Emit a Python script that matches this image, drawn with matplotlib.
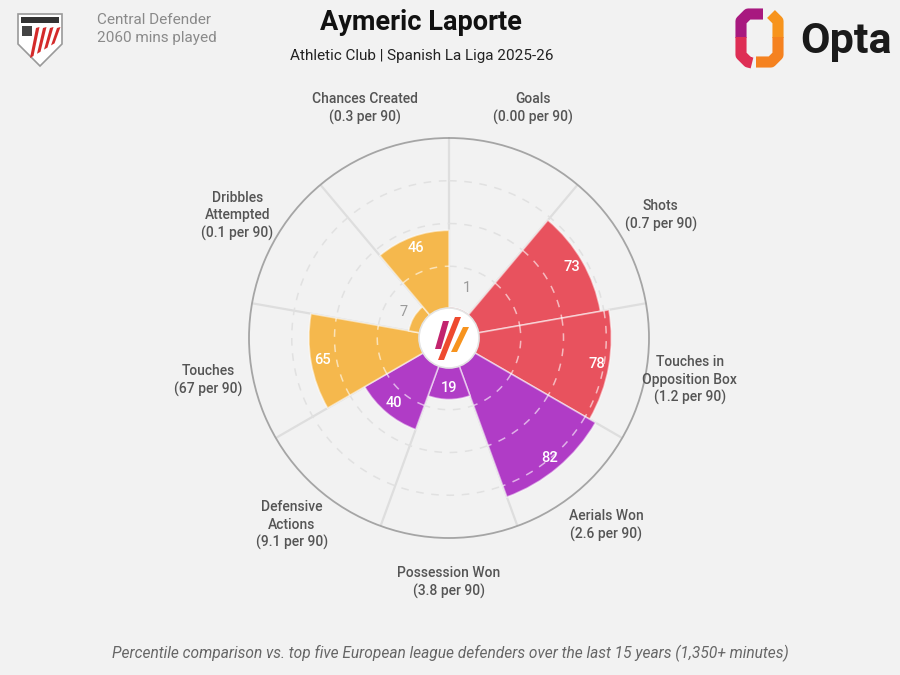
import matplotlib; matplotlib.use("Agg")
import matplotlib.pyplot as plt, numpy as np
from matplotlib.patches import Ellipse, Polygon
from matplotlib.lines import Line2D

plt.rcParams["font.family"] = ["Roboto", "DejaVu Sans"]

# data, clockwise from 12 o'clock
metrics = ["Goals", "Shots", "Touches in\nOpposition Box", "Aerials Won", "Possession Won",
           "Defensive\nActions", "Touches", "Dribbles\nAttempted", "Chances Created"]
per90 = ["0.00", "0.7", "1.2", "2.6", "3.8", "9.1", "67", "0.1", "0.3"]
pct = [1, 73, 78, 82, 19, 40, 65, 7, 46]
group = ["att", "att", "att", "def", "def", "def", "pos", "pos", "pos"]

pal = {"att": "#E8525E", "def": "#B03CC6", "pos": "#F5B84D"}
BG = "#f2f2f2"

fig = plt.figure(figsize=(9, 6.75), dpi=100, facecolor=BG)
W, H = 900, 675
cx, cy, R, HOLE = 449, 338, 200, 29

def fx(x, y):
    return (x / W, 1 - y / H)

ax = fig.add_axes([(cx - R) / W, 1 - (cy + R) / H, 2 * R / W, 2 * R / H], projection="polar")
ax.set_facecolor(BG)
ax.patch.set_edgecolor("none")
ax.set_theta_zero_location("N"); ax.set_theta_direction(-1)
org = -100 * HOLE / (R - HOLE)
ax.set_rorigin(org); ax.set_ylim(0, 100)
ax.set_xticks([]); ax.set_yticks([]); ax.grid(False)
for name, sp in ax.spines.items():
    if name == "polar":
        sp.set_color("#a5a5a5"); sp.set_linewidth(1.3)
    else:
        sp.set_visible(False)

n = len(pct)
step = 2 * np.pi / n
theta = np.arange(n) * step + step / 2

# spokes and faint rings
for k in range(n):
    ax.plot([k * step, k * step], [0, 100], color="#dedede", lw=1.6, zorder=1)
tt = np.linspace(0, 2 * np.pi, 500)
for r in (25, 50, 75):
    ax.plot(tt, np.full_like(tt, r), color="#e1e1e1", lw=1.1, ls=(0, (5, 5)), zorder=1)

cols = [pal[g] for g in group]
ax.bar(theta, pct, width=step, bottom=0, color=cols, edgecolor=(1, 1, 1, 0.55), linewidth=1.2, zorder=2)

# dashed rings inside bars
for t, v in zip(theta, pct):
    seg = np.linspace(t - step / 2, t + step / 2, 60)
    for r in (25, 50, 75):
        if r < v:
            ax.plot(seg, np.full_like(seg, r), color="white", alpha=0.6, lw=1.1, ls=(0, (5, 5)), zorder=3)

# value labels
for t, v in zip(theta, pct):
    if v < 15:
        ax.text(t, 14, str(v), ha="center", va="center", fontsize=10.5, color="#9a9a9a", zorder=4)
    else:
        ax.text(t, v - 7, str(v), ha="center", va="center", fontsize=10.5, fontweight="medium",
                color="white", zorder=4)

# category labels
for t, m, p in zip(theta, metrics, per90):
    ax.text(t, 126, f"{m}\n({p} per 90)", ha="center", va="center", fontsize=10,
            fontweight="medium", color="#555555", linespacing=1.3, clip_on=False)

# centre hole + logo
fig.add_artist(Ellipse(fx(cx, cy), 2 * (HOLE + 1) / W, 2 * (HOLE + 1) / H, transform=fig.transFigure,
                       fc="white", ec="#e4e4e4", lw=1.2, zorder=5))
for pts, c in [([(435, 349), (441, 349), (449, 321), (443, 321)], "#C2246E"),
               ([(438, 360), (444, 360), (461, 317), (455, 317)], "#EE4A2F"),
               ([(451, 352), (457, 352), (469, 327), (463, 327)], "#F7931E")]:
    fig.add_artist(Polygon([fx(*q) for q in pts], closed=True, transform=fig.transFigure,
                           fc=c, ec="none", zorder=6))

# header text
fig.text(*fx(421, 23), "Aymeric Laporte", ha="center", va="center", fontsize=19.5,
         fontweight="bold", color="#111111")
fig.text(*fx(422, 56), "Athletic Club | Spanish La Liga 2025-26", ha="center", va="center",
         fontsize=11, color="#222222")
fig.text(*fx(97, 20), "Central Defender", ha="left", va="center", fontsize=11, color="#8a8a8a")
fig.text(*fx(97, 38), "2060 mins played", ha="left", va="center", fontsize=11, color="#8a8a8a")
fig.text(*fx(450, 653), "Percentile comparison vs. top five European league defenders over the last 15 years (1,350+ minutes)",
         ha="center", va="center", fontsize=11.2, style="italic", color="#666666")

# Opta mark
def stroke(pts, c, lw=8):
    xs, ys = zip(*[fx(*q) for q in pts])
    fig.add_artist(Line2D(xs, ys, transform=fig.transFigure, color=c, lw=lw,
                          solid_joinstyle="round", solid_capstyle="butt", zorder=6))
stroke([(763, 14), (748, 14), (741, 21), (741, 38)], "#A8197F")
stroke([(741, 37), (741, 55), (748, 62), (752, 63)], "#DE2E55")
stroke([(771, 14), (778, 21), (778, 38)], "#F7941D")
stroke([(778, 37), (778, 55), (771, 62), (756, 62)], "#F58220")
fig.text(*fx(846, 41), "Opta", ha="center", va="center", fontsize=31, fontweight="bold",
         color="#1a1a1a")

# club crest (simplified shield)
shield = [(18, 14), (62, 14), (62, 44), (40, 66), (18, 44)]
fig.add_artist(Polygon([fx(*q) for q in shield], closed=True, transform=fig.transFigure,
                       fc="white", ec="#9a9a9a", lw=1.2, zorder=5))
fig.add_artist(Polygon([fx(*q) for q in [(21, 17), (59, 17), (59, 23), (21, 23)]], closed=True,
                       transform=fig.transFigure, fc="#333333", ec="none", zorder=6))
for x0 in (30, 37, 44, 51):
    band = [(x0, 58 - (x0 - 30) * 0.6), (x0 + 3.5, 56 - (x0 - 30) * 0.6),
            (x0 + 3.5 + 6, 27), (x0 + 6, 28)]
    fig.add_artist(Polygon([fx(*q) for q in band], closed=True, transform=fig.transFigure,
                           fc="#D42A2A", ec="none", zorder=6))
fig.add_artist(Polygon([fx(*q) for q in [(22, 26), (32, 26), (32, 36), (22, 36)]], closed=True,
                       transform=fig.transFigure, fc="#444444", ec="none", zorder=6))

fig.savefig("out.png", dpi=100, facecolor=BG)
